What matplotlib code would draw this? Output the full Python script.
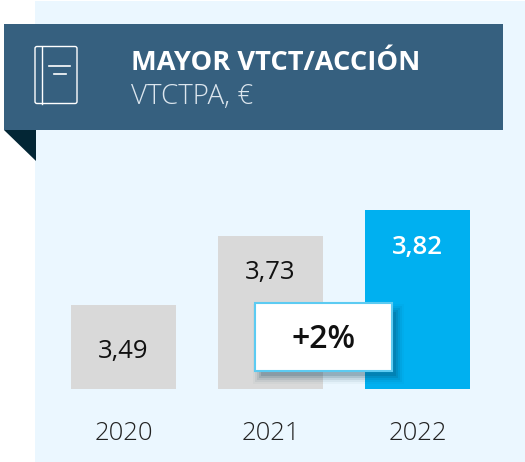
import matplotlib
matplotlib.use("Agg")
import matplotlib.pyplot as plt
from matplotlib.patches import Rectangle, Polygon, FancyBboxPatch

plt.rcParams['font.family'] = ['Open Sans', 'DejaVu Sans']

# Data
years = ['2020', '2021', '2022']
values = [3.49, 3.73, 3.82]
value_labels = ['3,49', '3,73', '3,82']
bar_colors = ['#D9D9D9', '#D9D9D9', '#00B0F0']
label_colors = ['#111111', '#111111', '#FFFFFF']

W, H = 525, 462
fig = plt.figure(figsize=(W / 100, H / 100), dpi=100, facecolor='white')

# Background layer in pixel coordinates
bg = fig.add_axes([0, 0, 1, 1])
bg.set_xlim(0, W)
bg.set_ylim(H, 0)
bg.axis('off')
bg.add_patch(Rectangle((35, 1), 490, 461, color='#EBF7FF', lw=0))

# Bars, truncated y axis
ax = fig.add_axes([36 / W, (H - 389) / H, 469 / W, 201.6 / H])
ax.patch.set_alpha(0)
ax.bar(range(3), values, width=105 / 147, color=bar_colors)
ax.set_xlim(-0.595, 2.595)
ax.set_ylim(3.198, 3.898)
ax.set_yticks([])
ax.set_xticks(range(3))
ax.set_xticklabels(years, fontsize=18.5, color='#222222', fontweight='light')
ax.tick_params(axis='x', length=0, pad=23)
for s in ax.spines.values():
    s.set_visible(False)

label_offset = [0.163, 0.128, 0.13]
for i, v in enumerate(values):
    ax.text(i, v - label_offset[i], value_labels[i], ha='center', va='center',
            fontsize=18.5, color=label_colors[i],
            fontweight='semibold' if i == 2 else 'normal')

# Overlay for banner and callout
top = fig.add_axes([0, 0, 1, 1], zorder=5)
top.set_xlim(0, W)
top.set_ylim(H, 0)
top.axis('off')
top.patch.set_alpha(0)

top.add_patch(Rectangle((4, 24), 499, 106, color='#36607F', lw=0))
top.add_patch(Polygon([(4, 130), (36, 130), (36, 161)], color='#032635', lw=0))

# Book icon
top.add_patch(FancyBboxPatch((35, 46.5), 42, 57, boxstyle='round,pad=0,rounding_size=2',
                             fc='none', ec='white', lw=1))
top.plot([41.5, 41.5], [46.5, 103.5], color='white', lw=1)
top.plot([49, 70], [66, 66], color='white', lw=1.2)
top.plot([54, 66], [74, 74], color='white', lw=1.2)

top.text(131, 63, 'MAYOR VTCT/ACCIÓN', color='white', fontsize=19.6, fontweight='bold',
         ha='left', va='center')
top.text(131, 97, 'VTCTPA, €', color='#DCE6EE', fontsize=20, fontweight='light',
         ha='left', va='center')

# Callout with soft shadow
for grow, alpha in [(7, 0.03), (5, 0.06), (3, 0.09), (1, 0.12), (-1, 0.15)]:
    top.add_patch(Rectangle((260 - grow, 311 - grow), 137 + 2 * grow, 66 + 2 * grow,
                            color='#0A3A55', alpha=alpha, lw=0))
top.add_patch(Rectangle((254.5, 303), 137.5, 68, fc='white', ec='#5CCBF2', lw=1.5))
top.text(323.5, 340, '+2%', color='#111111', fontsize=23, fontweight='semibold',
         ha='center', va='center')

fig.savefig('out.png', dpi=100)
